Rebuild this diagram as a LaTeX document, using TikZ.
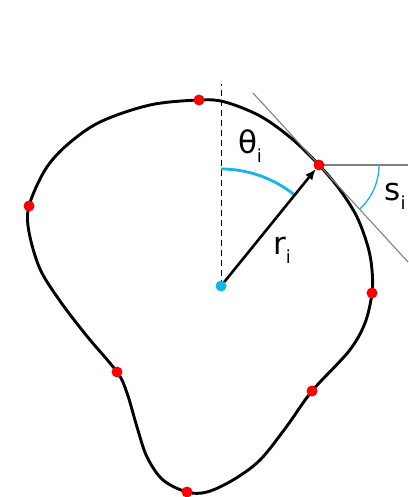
\documentclass[tikz,border=0pt]{standalone}
\usepackage{fontspec}
\setmainfont{DejaVu Sans}
\usepackage{xcolor}
\usetikzlibrary{arrows.meta, calc}

\definecolor{skyblue}{RGB}{20,180,240}
\newcommand{\lblsub}[1]{\raisebox{-0.28em}{\fontsize{18}{18}\selectfont #1}}

\begin{document}
\begin{tikzpicture}[
    x=1pt, y=-1pt,
    every node/.style={font=\fontsize{31}{34}\selectfont},
    sample/.style={circle, fill=red, inner sep=0pt, minimum size=11pt},
    centre/.style={circle, fill=skyblue, inner sep=0pt, minimum size=11pt},
    contour/.style={line width=2.9pt, line join=round},
    guide/.style={gray, line width=1.1pt}
]
    \useasboundingbox (0,0) rectangle (408,497);

    % Outline
    \draw[contour] plot[smooth cycle, tension=0.55] coordinates {
        (199,100) (225,102) (260,116) (291,138) (319,165) (340,190)
        (357,217) (368,247) (372,270) (372,293) (365,323) (349,351)
        (312,391) (287,426) (260,460) (233,480) (207,492)
        (187,492) (163,480) (147,457) (137,427) (127,393) (117,372)
        (86,335) (60,301) (40,269) (29,232) (29,206) (45,170)
        (67,145) (100,122) (150,105)};

    % Centre and reference point
    \coordinate (O) at (221,286);
    \coordinate (P) at (319,165);
    \coordinate (up) at (221,84);
    \coordinate (tanA) at (253,93);
    \coordinate (tanB) at (408,262);
    \coordinate (hor) at (408,165);

    % Guides
    \draw[dashed, line width=0.9pt, dash pattern=on 6pt off 4pt] (O) -- (up);
    \draw[guide] (tanA) -- (tanB);
    \draw[guide] (P) -- (hor);

    % Angles
    \draw[skyblue, line width=2.8pt] (O) ++(0,-117) arc[start angle=-90, end angle=-51, radius=117];
    \draw[skyblue, line width=1.3pt] (P) ++(60,0) arc[start angle=0, end angle=47.5, radius=60];

    % Radius
    \draw[line width=2.6pt, -{Latex[length=11pt, width=9pt]}, shorten >=5pt] (O) -- (P);

    % Samples
    \node[centre] (c) at (O) {};
    \node[sample] (p1) at (199,100) {};
    \node[sample] (p2) at (P) {};
    \node[sample] (p3) at (372,293) {};
    \node[sample] (p4) at (312,391) {};
    \node[sample] (p5) at (187,492) {};
    \node[sample] (p6) at (117,372) {};
    \node[sample] (p7) at (29,206) {};

    % Labels
    \node (theta) at (250,146) {θ\lblsub{i}};
    \node (s) at (395,196) {s\lblsub{i}};
    \node (r) at (282,250) {r\lblsub{i}};

\end{tikzpicture}
\end{document}
